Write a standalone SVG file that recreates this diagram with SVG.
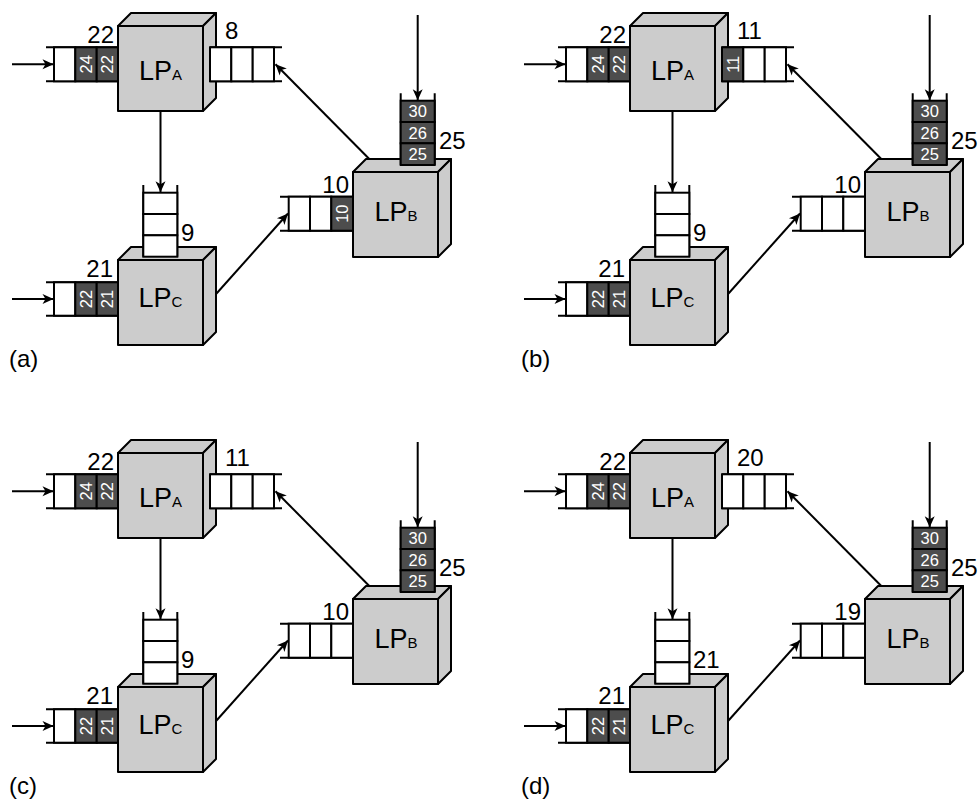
<svg xmlns="http://www.w3.org/2000/svg" width="980" height="799" viewBox="0 0 980 799">
<style>
.box{fill:#cccccc;stroke:#000;stroke-width:2;stroke-linejoin:round}
.cell{fill:#fff;stroke:#000;stroke-width:2}
.dark{fill:#4d4d4d;stroke:#000;stroke-width:2}
.rail{fill:none;stroke:#000;stroke-width:2}
.conn{fill:none;stroke:#000;stroke-width:2;marker-end:url(#ah)}
text{font-family:"Liberation Sans",Arial,Helvetica,sans-serif;fill:#000}
.num{font-size:24px}
.lp{font-size:27px;text-anchor:middle}
.sub{font-size:15px}
.ct{font-size:16.5px;fill:#fff;text-anchor:middle}
.pl{font-size:24px}
</style>
<defs>
<marker id="ah" viewBox="-12 -6 13 12" refX="0" refY="0" markerWidth="13" markerHeight="12" orient="auto" markerUnits="userSpaceOnUse">
<path d="M0,0 L-11,-5 L-8,0 L-11,5 Z" fill="#000"/>
</marker>
</defs>

<!-- Panel (a) -->
<g id="panel-a">
<g id="a-connectors">
<path class="conn" d="M12,64.3H53.5"/>
<path class="conn" d="M12,299H53.5"/>
<path class="conn" d="M160.5,111V192.2"/>
<path class="conn" d="M417.7,15V100.2"/>
<path class="conn" d="M373.5,163.3L275.5,64.2"/>
<path class="conn" d="M212.5,298L288,213.5"/>
</g>
<g id="a-lpa">
<polygon class="box" points="118,26 131,13 216,13 203,26"/>
<polygon class="box" points="203,26 216,13 216,98 203,111"/>
<rect class="box" x="118" y="26" width="85" height="85"/>
<text class="lp" x="160.5" y="80">LP<tspan class="sub">A</tspan></text>
<path class="rail" d="M46,47.3H118M46,81.3H118"/>
<rect class="cell" x="54" y="47.3" width="21.3" height="34"/>
<rect class="dark" x="75.3" y="47.3" width="21.4" height="34"/>
<rect class="dark" x="96.7" y="47.3" width="21.3" height="34"/>
<text class="ct" transform="translate(86,64.3) rotate(-90)" y="6">24</text>
<text class="ct" transform="translate(107.4,64.3) rotate(-90)" y="6">22</text>
<text class="num" x="114" y="43.3" text-anchor="end">22</text>
<path class="rail" d="M210,47.3H282M210,81.3H282"/>
<rect class="cell" x="210" y="47.3" width="21.3" height="34"/>
<rect class="cell" x="231.3" y="47.3" width="21.4" height="34"/>
<rect class="cell" x="252.7" y="47.3" width="21.3" height="34"/>
<text class="num" x="225" y="38.5">8</text>
</g>
<g id="a-lpb">
<polygon class="box" points="353,172 366,159 451,159 438,172"/>
<polygon class="box" points="438,172 451,159 451,244 438,257"/>
<rect class="box" x="353" y="172" width="85" height="85"/>
<text class="lp" x="396" y="220.5">LP<tspan class="sub">B</tspan></text>
<path class="rail" d="M280,196.7H353M280,230.7H353"/>
<rect class="cell" x="288.7" y="196.7" width="21.3" height="34"/>
<rect class="cell" x="310" y="196.7" width="21.3" height="34"/>
<rect class="dark" x="331.3" y="196.7" width="21.7" height="34"/>
<text class="ct" transform="translate(342.2,213.7) rotate(-90)" y="6">10</text>
<text class="num" x="349" y="192.5" text-anchor="end">10</text>
<path class="rail" d="M400.7,93.3V165M434.7,93.3V165"/>
<rect class="dark" x="400.7" y="100.7" width="34" height="21.3"/>
<rect class="dark" x="400.7" y="122" width="34" height="21.3"/>
<rect class="dark" x="400.7" y="143.3" width="34" height="21.7"/>
<text class="ct" x="417.7" y="117.3">30</text>
<text class="ct" x="417.7" y="138.6">26</text>
<text class="ct" x="417.7" y="160">25</text>
<text class="num" x="439" y="149">25</text>
</g>
<g id="a-lpc">
<polygon class="box" points="118,260 131,247 216,247 203,260"/>
<polygon class="box" points="203,260 216,247 216,332 203,345"/>
<rect class="box" x="118" y="260" width="85" height="85"/>
<text class="lp" x="160.5" y="306.5">LP<tspan class="sub">C</tspan></text>
<path class="rail" d="M46,282.3H118M46,315.7H118"/>
<rect class="cell" x="54" y="282.3" width="21.3" height="33.4"/>
<rect class="dark" x="75.3" y="282.3" width="21.4" height="33.4"/>
<rect class="dark" x="96.7" y="282.3" width="21.3" height="33.4"/>
<text class="ct" transform="translate(86,299) rotate(-90)" y="6">22</text>
<text class="ct" transform="translate(107.4,299) rotate(-90)" y="6">21</text>
<text class="num" x="113" y="277" text-anchor="end">21</text>
<path class="rail" d="M143.3,185V256.7M177.3,185V256.7"/>
<rect class="cell" x="143.3" y="192.7" width="34" height="21.3"/>
<rect class="cell" x="143.3" y="214" width="34" height="21.3"/>
<rect class="cell" x="143.3" y="235.3" width="34" height="21.4"/>
<text class="num" x="181" y="241">9</text>
</g>
<text class="pl" x="9" y="367">(a)</text>
</g>

<!-- Panel (b) -->
<g id="panel-b" transform="translate(512,0)">
<g id="b-connectors">
<path class="conn" d="M12,64.3H53.5"/>
<path class="conn" d="M12,299H53.5"/>
<path class="conn" d="M160.5,111V192.2"/>
<path class="conn" d="M417.7,15V100.2"/>
<path class="conn" d="M373.5,163.3L275.5,64.2"/>
<path class="conn" d="M212.5,298L288,213.5"/>
</g>
<g id="b-lpa">
<polygon class="box" points="118,26 131,13 216,13 203,26"/>
<polygon class="box" points="203,26 216,13 216,98 203,111"/>
<rect class="box" x="118" y="26" width="85" height="85"/>
<text class="lp" x="160.5" y="80">LP<tspan class="sub">A</tspan></text>
<path class="rail" d="M46,47.3H118M46,81.3H118"/>
<rect class="cell" x="54" y="47.3" width="21.3" height="34"/>
<rect class="dark" x="75.3" y="47.3" width="21.4" height="34"/>
<rect class="dark" x="96.7" y="47.3" width="21.3" height="34"/>
<text class="ct" transform="translate(86,64.3) rotate(-90)" y="6">24</text>
<text class="ct" transform="translate(107.4,64.3) rotate(-90)" y="6">22</text>
<text class="num" x="114" y="43.3" text-anchor="end">22</text>
<path class="rail" d="M210,47.3H282M210,81.3H282"/>
<rect class="dark" x="210" y="47.3" width="21.3" height="34"/>
<rect class="cell" x="231.3" y="47.3" width="21.4" height="34"/>
<rect class="cell" x="252.7" y="47.3" width="21.3" height="34"/>
<text class="ct" transform="translate(220.7,64.3) rotate(-90)" y="6">11</text>
<text class="num" x="225" y="38.5">11</text>
</g>
<g id="b-lpb">
<polygon class="box" points="353,172 366,159 451,159 438,172"/>
<polygon class="box" points="438,172 451,159 451,244 438,257"/>
<rect class="box" x="353" y="172" width="85" height="85"/>
<text class="lp" x="396" y="220.5">LP<tspan class="sub">B</tspan></text>
<path class="rail" d="M280,196.7H353M280,230.7H353"/>
<rect class="cell" x="288.7" y="196.7" width="21.3" height="34"/>
<rect class="cell" x="310" y="196.7" width="21.3" height="34"/>
<rect class="cell" x="331.3" y="196.7" width="21.7" height="34"/>
<text class="num" x="349" y="192.5" text-anchor="end">10</text>
<path class="rail" d="M400.7,93.3V165M434.7,93.3V165"/>
<rect class="dark" x="400.7" y="100.7" width="34" height="21.3"/>
<rect class="dark" x="400.7" y="122" width="34" height="21.3"/>
<rect class="dark" x="400.7" y="143.3" width="34" height="21.7"/>
<text class="ct" x="417.7" y="117.3">30</text>
<text class="ct" x="417.7" y="138.6">26</text>
<text class="ct" x="417.7" y="160">25</text>
<text class="num" x="439" y="149">25</text>
</g>
<g id="b-lpc">
<polygon class="box" points="118,260 131,247 216,247 203,260"/>
<polygon class="box" points="203,260 216,247 216,332 203,345"/>
<rect class="box" x="118" y="260" width="85" height="85"/>
<text class="lp" x="160.5" y="306.5">LP<tspan class="sub">C</tspan></text>
<path class="rail" d="M46,282.3H118M46,315.7H118"/>
<rect class="cell" x="54" y="282.3" width="21.3" height="33.4"/>
<rect class="dark" x="75.3" y="282.3" width="21.4" height="33.4"/>
<rect class="dark" x="96.7" y="282.3" width="21.3" height="33.4"/>
<text class="ct" transform="translate(86,299) rotate(-90)" y="6">22</text>
<text class="ct" transform="translate(107.4,299) rotate(-90)" y="6">21</text>
<text class="num" x="113" y="277" text-anchor="end">21</text>
<path class="rail" d="M143.3,185V256.7M177.3,185V256.7"/>
<rect class="cell" x="143.3" y="192.7" width="34" height="21.3"/>
<rect class="cell" x="143.3" y="214" width="34" height="21.3"/>
<rect class="cell" x="143.3" y="235.3" width="34" height="21.4"/>
<text class="num" x="181" y="241">9</text>
</g>
<text class="pl" x="9" y="367">(b)</text>
</g>

<!-- Panel (c) -->
<g id="panel-c" transform="translate(0,427)">
<g id="c-connectors">
<path class="conn" d="M12,64.3H53.5"/>
<path class="conn" d="M12,299H53.5"/>
<path class="conn" d="M160.5,111V192.2"/>
<path class="conn" d="M417.7,15V100.2"/>
<path class="conn" d="M373.5,163.3L275.5,64.2"/>
<path class="conn" d="M212.5,298L288,213.5"/>
</g>
<g id="c-lpa">
<polygon class="box" points="118,26 131,13 216,13 203,26"/>
<polygon class="box" points="203,26 216,13 216,98 203,111"/>
<rect class="box" x="118" y="26" width="85" height="85"/>
<text class="lp" x="160.5" y="80">LP<tspan class="sub">A</tspan></text>
<path class="rail" d="M46,47.3H118M46,81.3H118"/>
<rect class="cell" x="54" y="47.3" width="21.3" height="34"/>
<rect class="dark" x="75.3" y="47.3" width="21.4" height="34"/>
<rect class="dark" x="96.7" y="47.3" width="21.3" height="34"/>
<text class="ct" transform="translate(86,64.3) rotate(-90)" y="6">24</text>
<text class="ct" transform="translate(107.4,64.3) rotate(-90)" y="6">22</text>
<text class="num" x="114" y="43.3" text-anchor="end">22</text>
<path class="rail" d="M210,47.3H282M210,81.3H282"/>
<rect class="cell" x="210" y="47.3" width="21.3" height="34"/>
<rect class="cell" x="231.3" y="47.3" width="21.4" height="34"/>
<rect class="cell" x="252.7" y="47.3" width="21.3" height="34"/>
<text class="num" x="225" y="38.5">11</text>
</g>
<g id="c-lpb">
<polygon class="box" points="353,172 366,159 451,159 438,172"/>
<polygon class="box" points="438,172 451,159 451,244 438,257"/>
<rect class="box" x="353" y="172" width="85" height="85"/>
<text class="lp" x="396" y="220.5">LP<tspan class="sub">B</tspan></text>
<path class="rail" d="M280,196.7H353M280,230.7H353"/>
<rect class="cell" x="288.7" y="196.7" width="21.3" height="34"/>
<rect class="cell" x="310" y="196.7" width="21.3" height="34"/>
<rect class="cell" x="331.3" y="196.7" width="21.7" height="34"/>
<text class="num" x="349" y="192.5" text-anchor="end">10</text>
<path class="rail" d="M400.7,93.3V165M434.7,93.3V165"/>
<rect class="dark" x="400.7" y="100.7" width="34" height="21.3"/>
<rect class="dark" x="400.7" y="122" width="34" height="21.3"/>
<rect class="dark" x="400.7" y="143.3" width="34" height="21.7"/>
<text class="ct" x="417.7" y="117.3">30</text>
<text class="ct" x="417.7" y="138.6">26</text>
<text class="ct" x="417.7" y="160">25</text>
<text class="num" x="439" y="149">25</text>
</g>
<g id="c-lpc">
<polygon class="box" points="118,260 131,247 216,247 203,260"/>
<polygon class="box" points="203,260 216,247 216,332 203,345"/>
<rect class="box" x="118" y="260" width="85" height="85"/>
<text class="lp" x="160.5" y="306.5">LP<tspan class="sub">C</tspan></text>
<path class="rail" d="M46,282.3H118M46,315.7H118"/>
<rect class="cell" x="54" y="282.3" width="21.3" height="33.4"/>
<rect class="dark" x="75.3" y="282.3" width="21.4" height="33.4"/>
<rect class="dark" x="96.7" y="282.3" width="21.3" height="33.4"/>
<text class="ct" transform="translate(86,299) rotate(-90)" y="6">22</text>
<text class="ct" transform="translate(107.4,299) rotate(-90)" y="6">21</text>
<text class="num" x="113" y="277" text-anchor="end">21</text>
<path class="rail" d="M143.3,185V256.7M177.3,185V256.7"/>
<rect class="cell" x="143.3" y="192.7" width="34" height="21.3"/>
<rect class="cell" x="143.3" y="214" width="34" height="21.3"/>
<rect class="cell" x="143.3" y="235.3" width="34" height="21.4"/>
<text class="num" x="181" y="241">9</text>
</g>
<text class="pl" x="9" y="367">(c)</text>
</g>

<!-- Panel (d) -->
<g id="panel-d" transform="translate(512,427)">
<g id="d-connectors">
<path class="conn" d="M12,64.3H53.5"/>
<path class="conn" d="M12,299H53.5"/>
<path class="conn" d="M160.5,111V192.2"/>
<path class="conn" d="M417.7,15V100.2"/>
<path class="conn" d="M373.5,163.3L275.5,64.2"/>
<path class="conn" d="M212.5,298L288,213.5"/>
</g>
<g id="d-lpa">
<polygon class="box" points="118,26 131,13 216,13 203,26"/>
<polygon class="box" points="203,26 216,13 216,98 203,111"/>
<rect class="box" x="118" y="26" width="85" height="85"/>
<text class="lp" x="160.5" y="80">LP<tspan class="sub">A</tspan></text>
<path class="rail" d="M46,47.3H118M46,81.3H118"/>
<rect class="cell" x="54" y="47.3" width="21.3" height="34"/>
<rect class="dark" x="75.3" y="47.3" width="21.4" height="34"/>
<rect class="dark" x="96.7" y="47.3" width="21.3" height="34"/>
<text class="ct" transform="translate(86,64.3) rotate(-90)" y="6">24</text>
<text class="ct" transform="translate(107.4,64.3) rotate(-90)" y="6">22</text>
<text class="num" x="114" y="43.3" text-anchor="end">22</text>
<path class="rail" d="M210,47.3H282M210,81.3H282"/>
<rect class="cell" x="210" y="47.3" width="21.3" height="34"/>
<rect class="cell" x="231.3" y="47.3" width="21.4" height="34"/>
<rect class="cell" x="252.7" y="47.3" width="21.3" height="34"/>
<text class="num" x="225" y="38.5">20</text>
</g>
<g id="d-lpb">
<polygon class="box" points="353,172 366,159 451,159 438,172"/>
<polygon class="box" points="438,172 451,159 451,244 438,257"/>
<rect class="box" x="353" y="172" width="85" height="85"/>
<text class="lp" x="396" y="220.5">LP<tspan class="sub">B</tspan></text>
<path class="rail" d="M280,196.7H353M280,230.7H353"/>
<rect class="cell" x="288.7" y="196.7" width="21.3" height="34"/>
<rect class="cell" x="310" y="196.7" width="21.3" height="34"/>
<rect class="cell" x="331.3" y="196.7" width="21.7" height="34"/>
<text class="num" x="349" y="192.5" text-anchor="end">19</text>
<path class="rail" d="M400.7,93.3V165M434.7,93.3V165"/>
<rect class="dark" x="400.7" y="100.7" width="34" height="21.3"/>
<rect class="dark" x="400.7" y="122" width="34" height="21.3"/>
<rect class="dark" x="400.7" y="143.3" width="34" height="21.7"/>
<text class="ct" x="417.7" y="117.3">30</text>
<text class="ct" x="417.7" y="138.6">26</text>
<text class="ct" x="417.7" y="160">25</text>
<text class="num" x="439" y="149">25</text>
</g>
<g id="d-lpc">
<polygon class="box" points="118,260 131,247 216,247 203,260"/>
<polygon class="box" points="203,260 216,247 216,332 203,345"/>
<rect class="box" x="118" y="260" width="85" height="85"/>
<text class="lp" x="160.5" y="306.5">LP<tspan class="sub">C</tspan></text>
<path class="rail" d="M46,282.3H118M46,315.7H118"/>
<rect class="cell" x="54" y="282.3" width="21.3" height="33.4"/>
<rect class="dark" x="75.3" y="282.3" width="21.4" height="33.4"/>
<rect class="dark" x="96.7" y="282.3" width="21.3" height="33.4"/>
<text class="ct" transform="translate(86,299) rotate(-90)" y="6">22</text>
<text class="ct" transform="translate(107.4,299) rotate(-90)" y="6">21</text>
<text class="num" x="113" y="277" text-anchor="end">21</text>
<path class="rail" d="M143.3,185V256.7M177.3,185V256.7"/>
<rect class="cell" x="143.3" y="192.7" width="34" height="21.3"/>
<rect class="cell" x="143.3" y="214" width="34" height="21.3"/>
<rect class="cell" x="143.3" y="235.3" width="34" height="21.4"/>
<text class="num" x="181" y="241">21</text>
</g>
<text class="pl" x="9" y="367">(d)</text>
</g>
</svg>
